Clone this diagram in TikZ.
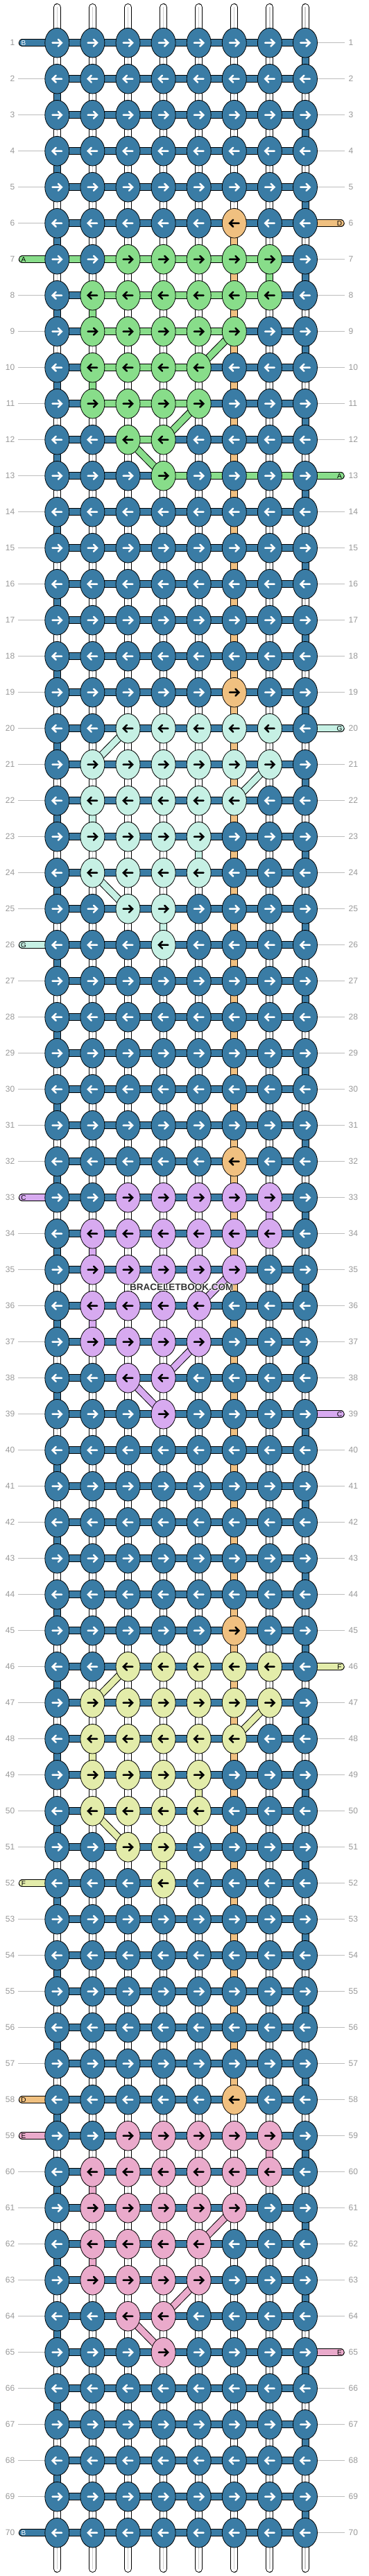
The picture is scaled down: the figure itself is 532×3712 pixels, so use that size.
\documentclass[tikz,border=0pt]{standalone}
\usepackage{fontspec}
\setmainfont{Liberation Sans}
\usetikzlibrary{shapes.geometric}
\pgfdeclarelayer{bg}
\pgfdeclarelayer{conn}
\pgfsetlayers{bg,conn,main}

\definecolor{kcb}{HTML}{3A7CA5}
\definecolor{kcg}{HTML}{88DD8A}
\definecolor{kco}{HTML}{F0C080}
\definecolor{kcc}{HTML}{C6F0E4}
\definecolor{kcp}{HTML}{D7AAF0}
\definecolor{kcy}{HTML}{E3ECAA}
\definecolor{kck}{HTML}{EAAACB}
\colorlet{arb}{white}
\colorlet{arg}{black}
\colorlet{aro}{black}
\colorlet{arc}{black}
\colorlet{arp}{black}
\colorlet{ary}{black}
\colorlet{ark}{black}
\definecolor{numgray}{HTML}{999999}
\definecolor{linegray}{HTML}{BDBDBD}
\definecolor{wmgray}{HTML}{333333}

% ---------- data ----------
\newcommand\setrow[2]{\expandafter\def\csname kr-\number#1\endcsname{#2}}
\newcommand\setbars[2]{\expandafter\def\csname br-\number#1\endcsname{#2}}
\newcommand\setv[3]{\expandafter\def\csname vc-\number#1-\number#2\endcsname{#3}}
\newcommand\setls[3]{\expandafter\def\csname lsc-\number#1\endcsname{#2}\expandafter\def\csname lsl-\number#1\endcsname{#3}}
\newcommand\setrs[3]{\expandafter\def\csname rsc-\number#1\endcsname{#2}\expandafter\def\csname rsl-\number#1\endcsname{#3}}
\newcommand\motifknots[2]{%
 \setrow{#1}{b,b,#2,#2,#2,#2,#2,b}%
 \setrow{\numexpr#1+1\relax}{b,#2,#2,#2,#2,#2,#2,b}%
 \setrow{\numexpr#1+2\relax}{b,#2,#2,#2,#2,#2,b,b}%
 \setrow{\numexpr#1+3\relax}{b,#2,#2,#2,#2,b,b,b}%
 \setrow{\numexpr#1+4\relax}{b,#2,#2,#2,#2,b,b,b}%
 \setrow{\numexpr#1+5\relax}{b,b,#2,#2,b,b,b,b}%
 \setrow{\numexpr#1+6\relax}{b,b,b,#2,b,b,b,b}}

\setrow{6}{b,b,b,b,b,o,b,b}
\setrow{19}{b,b,b,b,b,o,b,b}
\setrow{32}{b,b,b,b,b,o,b,b}
\setrow{45}{b,b,b,b,b,o,b,b}
\setrow{58}{b,b,b,b,b,o,b,b}
\motifknots{7}{g}
\motifknots{20}{c}
\motifknots{33}{p}
\motifknots{46}{y}
\motifknots{59}{k}

\setbars{7}{g,g,g,g,g,g,b}
\setbars{8}{b,g,g,g,g,g,b}
\setbars{9}{b,g,g,g,g,b,b}
\setbars{10}{b,g,g,g,b,b,b}
\setbars{11}{b,g,g,g,b,b,b}
\setbars{12}{b,b,g,b,b,b,b}
\setbars{13}{b,b,b,g,g,g,g}

\setv{7}{7}{g}\setv{8}{2}{g}\setv{10}{2}{g}
\setv{33}{7}{p}\setv{34}{2}{p}\setv{36}{2}{p}
\setv{59}{7}{k}\setv{60}{2}{k}\setv{62}{2}{k}
\setv{22}{2}{c}\setv{23}{5}{c}\setv{25}{4}{c}
\setv{48}{2}{y}\setv{49}{5}{y}\setv{51}{4}{y}

\setls{1}{b}{B}\setls{7}{g}{A}\setls{26}{c}{G}\setls{33}{p}{C}
\setls{52}{y}{F}\setls{58}{o}{D}\setls{59}{k}{E}\setls{70}{b}{B}
\setrs{6}{o}{D}\setrs{13}{g}{A}\setrs{20}{c}{G}\setrs{39}{p}{C}
\setrs{46}{y}{F}\setrs{65}{k}{E}

\newcommand\halotext[1]{\leavevmode
 \rlap{\color{white}\hspace{-0.9pt}#1}\rlap{\color{white}\hspace{0.9pt}#1}%
 \rlap{\color{white}\raisebox{0.9pt}{#1}}\rlap{\color{white}\raisebox{-0.9pt}{#1}}#1}

\tikzset{
  knot/.style={ellipse, draw=black, line width=0.8pt, minimum width=35pt,
    minimum height=42.6pt, inner sep=0pt},
  arrowline/.style={line width=2.5pt, line cap=round, line join=miter},
  hbarout/.style={draw=black, line width=11.5pt},
  hbarin/.style={line width=9.5pt},
  vout/.style={draw=black, line width=11pt},
  vin/.style={line width=9pt},
  vwhite/.style={draw=white, line width=9pt},
  vgray/.style={draw=gray!40, line width=1.3pt},
  tout/.style={draw=black, line width=11pt, line cap=round},
  tin/.style={draw=white, line width=9pt, line cap=round},
  stubout/.style={draw=black, line width=11.5pt, line cap=round},
  stubin/.style={line width=9.5pt, line cap=round},
  dout/.style={draw=black, line width=11pt},
  din/.style={line width=9pt},
  guide/.style={draw=linegray, line width=1pt},
  num/.style={font=\fontsize{12}{14}\selectfont, text=numgray, inner sep=0pt},
  letter/.style={font=\fontsize{10}{12}\selectfont, inner sep=0pt},
}

\begin{document}
\begin{tikzpicture}[x=1pt, y=-1pt]
\useasboundingbox (0,0) rectangle (532,3712);
\begin{pgfonlayer}{bg}
\fill[white] (0,0) rectangle (532,3712);
\end{pgfonlayer}

% ---------- knots ----------
\foreach \ri in {1,...,70}{
  \ifcsname kr-\ri\endcsname \edef\klist{\csname kr-\ri\endcsname}\else\def\klist{b,b,b,b,b,b,b,b}\fi
  \pgfmathsetmacro\yy{61.7+52*(\ri-1)}
  \ifodd\ri\relax \def\dir{1}\else\def\dir{-1}\fi
  \foreach \kc [count=\ci] in \klist {
    \pgfmathsetmacro\xx{82.3+51.1*(\ci-1)}
    \node[knot, fill=kc\kc] (k-\ri-\ci) at (\xx,\yy) {};
    \draw[arrowline, draw=ar\kc, shift={(k-\ri-\ci.center)}, xscale=\dir]
      (-6.8,0) -- (6.5,0) (1.6,-5) -- (6.6,0) -- (1.6,5);
  }
}

\begin{pgfonlayer}{conn}
% ---------- vertical threads ----------
\foreach \ri in {1,...,69}{
  \pgfmathtruncatemacro\rn{\ri+1}
  \foreach \ci in {1,...,8}{
    \def\vcol{w}%
    \ifodd\ri\relax \ifnum\ci=8 \def\vcol{b}\fi \else \ifnum\ci=1 \def\vcol{b}\fi \fi
    \ifnum\ci=6 \ifnum\ri>5 \ifnum\ri<58 \def\vcol{o}\fi\fi\fi
    \ifcsname vc-\ri-\ci\endcsname \edef\vcol{\csname vc-\ri-\ci\endcsname}\fi
    \def\wcode{w}%
    \draw[vout] (k-\ri-\ci.center) -- (k-\rn-\ci.center);
    \ifx\vcol\wcode
      \draw[vwhite] (k-\ri-\ci.center) -- (k-\rn-\ci.center);
      \draw[vgray] (k-\ri-\ci.center) -- (k-\rn-\ci.center);
    \else
      \draw[vin, draw=kc\vcol] (k-\ri-\ci.center) -- (k-\rn-\ci.center);
    \fi
  }
}
% top and bottom free ends
\foreach \ci in {1,...,8}{
  \pgfmathsetmacro\xx{82.3+51.1*(\ci-1)}
  \coordinate (t-\ci) at (\xx,10.5);
  \coordinate (bt-\ci) at (\xx,3701.5);
  \draw[tout] (t-\ci) -- (k-1-\ci.center);
  \draw[tin] (t-\ci) -- (k-1-\ci.center);
  \draw[vgray] (t-\ci) -- (k-1-\ci.center);
  \draw[tout] (bt-\ci) -- (k-70-\ci.center);
  \draw[tin] (bt-\ci) -- (k-70-\ci.center);
  \draw[vgray] (bt-\ci) -- (k-70-\ci.center);
}
% ---------- horizontal bars ----------
\foreach \ri in {1,...,70}{
  \ifcsname br-\ri\endcsname \edef\blist{\csname br-\ri\endcsname}\else\def\blist{b,b,b,b,b,b,b}\fi
  \foreach \bc [count=\ci] in \blist {
    \pgfmathtruncatemacro\cn{\ci+1}
    \draw[hbarout] (k-\ri-\ci.center) -- (k-\ri-\cn.center);
    \draw[hbarin, draw=kc\bc] (k-\ri-\ci.center) -- (k-\ri-\cn.center);
  }
}
% ---------- diagonals ----------
\foreach \ra/\ca/\rb/\cb/\dc in {9/6/10/5/g, 11/5/12/4/g, 12/3/13/4/g,
   35/6/36/5/p, 37/5/38/4/p, 38/3/39/4/p,
   61/6/62/5/k, 63/5/64/4/k, 64/3/65/4/k,
   20/3/21/2/c, 21/7/22/6/c, 24/2/25/3/c,
   46/3/47/2/y, 47/7/48/6/y, 50/2/51/3/y}{
  \draw[dout] (k-\ra-\ca.center) -- (k-\rb-\cb.center);
  \draw[din, draw=kc\dc] (k-\ra-\ca.center) -- (k-\rb-\cb.center);
}
% ---------- edges and row numbers ----------
\foreach \ri in {1,...,70}{
  \pgfmathsetmacro\yy{61.7+52*(\ri-1)}
  \ifcsname lsc-\ri\endcsname
    \edef\stubc{\csname lsc-\ri\endcsname}\edef\stubl{\csname lsl-\ri\endcsname}
    \coordinate (ls-\ri) at (32.5,\yy);
    \draw[stubout] (ls-\ri) -- (k-\ri-1.center);
    \draw[stubin, draw=kc\stubc] (ls-\ri) -- (k-\ri-1.center);
    \node[letter, text=ar\stubc] (lsl-\ri) at (34,\yy) {\stubl};
  \else
    \coordinate (ll-\ri) at (26,\yy);
    \draw[guide] (ll-\ri) -- (k-\ri-1.west);
  \fi
  \ifcsname rsc-\ri\endcsname
    \edef\stubc{\csname rsc-\ri\endcsname}\edef\stubl{\csname rsl-\ri\endcsname}
    \coordinate (rs-\ri) at (491,\yy);
    \draw[stubout] (rs-\ri) -- (k-\ri-8.center);
    \draw[stubin, draw=kc\stubc] (rs-\ri) -- (k-\ri-8.center);
    \node[letter, text=ar\stubc] (rsl-\ri) at (489.5,\yy) {\stubl};
  \else
    \coordinate (rl-\ri) at (497,\yy);
    \draw[guide] (k-\ri-8.east) -- (rl-\ri);
  \fi
  \node[num, anchor=east] (nl-\ri) at (21.5,\yy) {\ri};
  \node[num, anchor=west] (nr-\ri) at (502.5,\yy) {\ri};
}
\end{pgfonlayer}

% ---------- watermark ----------
\node[font=\bfseries\fontsize{13.5}{15}\selectfont, text=wmgray, inner sep=0pt]
  (wm) at (261.7,1855) {\halotext{BRACELETBOOK.COM}};
\end{tikzpicture}
\end{document}
